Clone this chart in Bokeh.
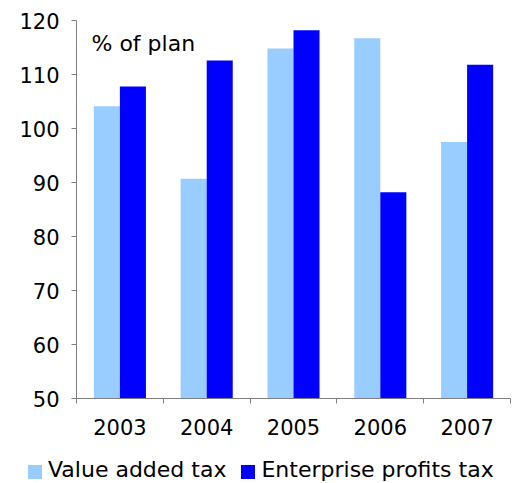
from bokeh.plotting import figure
from bokeh.layouts import column
from bokeh.models import Range1d, FixedTicker, LinearAxis, Label, Div
from bokeh.embed import file_html
from bokeh.resources import INLINE

years = ["2003", "2004", "2005", "2006", "2007"]
vat = [104.1, 90.7, 114.8, 116.7, 97.5]
profits = [107.8, 112.6, 118.2, 88.2, 111.8]
y_ticks = [50, 60, 70, 80, 90, 100, 110, 120]
series_names = ["Value added tax", "Enterprise profits tax"]
colors = ["#99CCFF", "#0000FF"]

FONT = "DejaVu Sans"
n = len(years)

p = figure(output_backend="svg", toolbar_location=None,
           frame_width=434, frame_height=378,
           x_range=Range1d(0, n), y_range=Range1d(50, 120),
           min_border_left=76, min_border_top=20, min_border_right=4,
           min_border_bottom=47, x_axis_location=None)
p.grid.visible = False
p.outline_line_color = None
p.background_fill_color = "white"
p.border_fill_color = "white"

bw = 0.3
centers = [i + 0.5 for i in range(n)]
p.vbar(x=[c - bw / 2 for c in centers], top=vat, bottom=50, width=bw,
       fill_color=colors[0], line_color=None)
p.vbar(x=[c + bw / 2 for c in centers], top=profits, bottom=50, width=bw,
       fill_color=colors[1], line_color=None)

# y axis
ya = p.yaxis[0]
ya.ticker = FixedTicker(ticks=y_ticks)
ya.axis_line_color = "#808080"
ya.major_tick_line_color = "#808080"
ya.major_tick_out = 5
ya.major_tick_in = 0
ya.minor_tick_line_color = None
ya.major_label_text_font = FONT
ya.major_label_text_font_size = "21px"
ya.major_label_text_color = "black"
ya.major_label_standoff = 12

# x axis: labels at centers, tick marks at category boundaries
xa = LinearAxis(ticker=FixedTicker(ticks=centers, minor_ticks=list(range(n + 1))),
                major_label_overrides={c: y for c, y in zip(centers, years)},
                axis_line_color="#808080",
                major_tick_line_color=None, major_tick_out=0, major_tick_in=0,
                minor_tick_line_color="#808080", minor_tick_out=5, minor_tick_in=0,
                major_label_text_font=FONT, major_label_text_font_size="21px",
                major_label_text_color="black", major_label_standoff=15)
p.add_layout(xa, "below")

p.add_layout(Label(x=0.173, y=115.74, text="% of plan", text_font=FONT,
                   text_font_size="22px", text_color="black",
                   text_baseline="alphabetic"))

# legend row below the chart
items_html = []
for i, (name, col) in enumerate(zip(series_names, colors)):
    gap = "0px" if i == 0 else "15px"
    items_html.append(
        f'<span style="display:inline-block;width:14px;height:14px;'
        f'background:{col};vertical-align:-2px;margin-left:{gap};'
        f'margin-right:6px"></span><span>{name}</span>')
legend_html = (f'<div style="font-family:\'{FONT}\';font-size:22px;color:black;'
               f'line-height:26px;padding-top:12px;padding-left:28px;'
               f'white-space:nowrap">' + "".join(items_html) + '</div>')
leg = Div(text=legend_html, width=514, height=38, margin=0)

layout = column(p, leg, spacing=0)
open("out.html", "w").write(file_html(layout, INLINE))
